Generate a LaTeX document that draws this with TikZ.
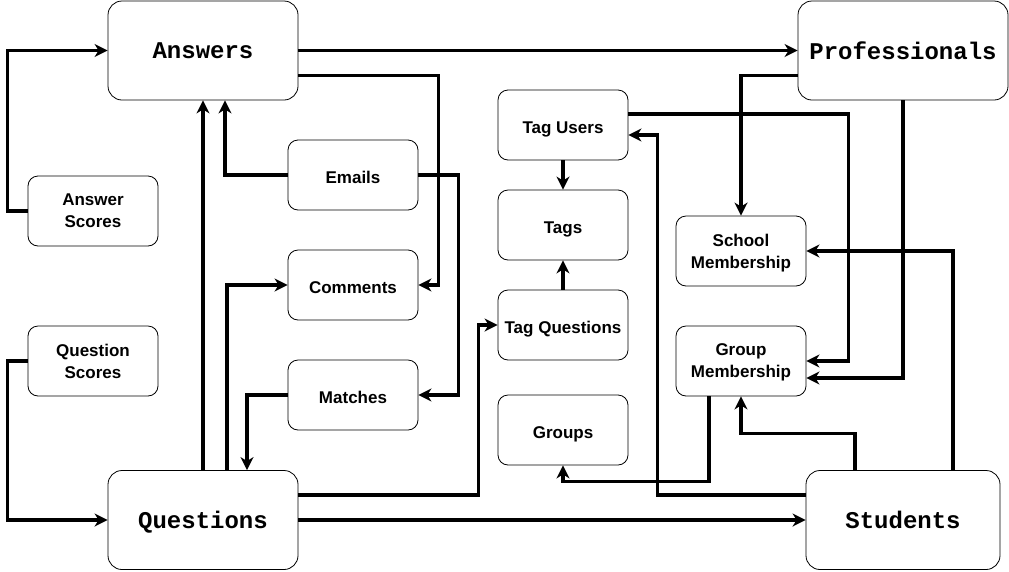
\documentclass[tikz,border=0pt]{standalone}
\usepackage{fontspec}
\setmainfont{Liberation Sans}
\newfontfamily\codefont{Liberation Mono}
\usepackage{tikz}
\usetikzlibrary{arrows.meta}

\begin{document}
\begin{tikzpicture}[x=1pt, y=-1pt,
	bigbox/.style={draw, line width=0.8pt, rounded corners=14pt, minimum width=190pt, minimum height=99pt, text depth=0pt, font=\codefont\bfseries\fontsize{24}{28}\selectfont},
	smallbox/.style={draw, line width=0.8pt, rounded corners=10pt, minimum width=130pt, minimum height=70pt, align=center, text depth=0pt, font=\bfseries\fontsize{17}{22}\selectfont},
	oneline/.style={text height=17.5pt},
	link/.style={line width=3.2pt, -{Stealth[length=13pt, width=13pt, inset=4pt]}}]
	\useasboundingbox (0,0) rectangle (1009,571);
	
	\node[bigbox] (answers) at (203,50.5) {Answers};
	\node[bigbox, minimum width=210pt] (profs) at (903,50.5) {Professionals};
	\node[bigbox] (questions) at (203,520) {Questions};
	\node[bigbox, minimum width=194pt] (students) at (903,520) {Students};
	
	\node[smallbox] (ascores) at (93,211) {Answer\\Scores};
	\node[smallbox] (qscores) at (93,361) {Question\\Scores};
	
	\node[smallbox, oneline] (emails) at (353,175) {Emails};
	\node[smallbox, oneline] (comments) at (353,285) {Comments};
	\node[smallbox, oneline] (matches) at (353,395) {Matches};
	
	\node[smallbox, oneline] (tagusers) at (563,125) {Tag Users};
	\node[smallbox, oneline] (tags) at (563,225) {Tags};
	\node[smallbox, oneline] (tagq) at (563,325) {Tag Questions};
	\node[smallbox, oneline] (groups) at (563,430) {Groups};
	
	\node[smallbox] (school) at (741,251) {School\\Membership};
	\node[smallbox] (groupm) at (741,361) {Group\\Membership};
	
	% left side
	\draw[link] (ascores.west) -- ++(-20,0) |- (answers.west);
	\draw[link] (qscores.west) -- ++(-20,0) |- (questions.west);
	
	% answers and questions
	\draw[link] (answers.east) -- (profs.west);
	\draw[link] ([yshift=-25pt]answers.east) -- ++(140,0) |- (comments.east);
	\draw[link] (emails.west) -| ([xshift=22pt]answers.south);
	\draw[link] (emails.east) -- ++(40,0) |- (matches.east);
	\draw[link] (questions.north) -- (answers.south);
	\draw[link] ([xshift=24pt]questions.north) |- (comments.west);
	\draw[link] (matches.west) -| ([xshift=44pt]questions.north);
	\draw[link] ([yshift=25pt]questions.east) -- ++(180,0) |- (tagq.west);
	\draw[link] (questions.east) -- (students.west);
	
	% tags
	\draw[link] (tagusers) -- (tags);
	\draw[link] (tagq) -- (tags);
	
	% memberships
	\draw[link] ([yshift=-25pt]profs.west) -| (school.north);
	\draw[link] ([yshift=11pt]tagusers.east) -- ++(220,0) |- (groupm.east);
	\draw[link] (profs.south) |- ([yshift=-17pt]groupm.east);
	\draw[link] ([xshift=50pt]students.north) |- (school.east);
	\draw[link] ([xshift=-48pt]students.north) -- ++(0,-37) -| (groupm.south);
	\draw[link] ([xshift=-32pt]groupm.south) -- ++(0,85) -| (groups.south);
	\draw[link] ([yshift=25pt]students.west) -- ++(-148,0) |- ([yshift=-10pt]tagusers.east);
	
\end{tikzpicture}
\end{document}
